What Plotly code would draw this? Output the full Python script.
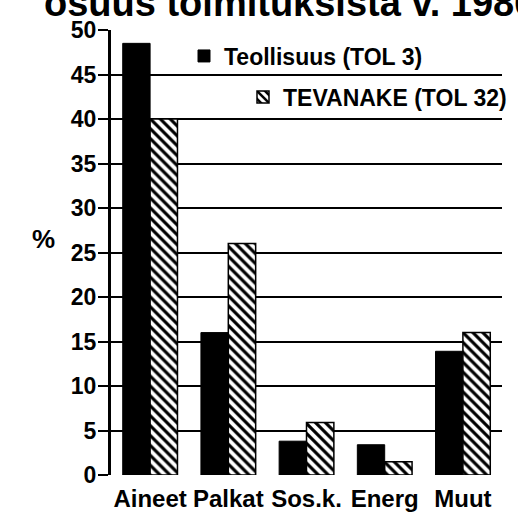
import plotly.graph_objects as go

categories = ["Aineet", "Palkat", "Sos.k.", "Energ", "Muut"]
teollisuus = [48.5, 16.0, 3.8, 3.4, 13.9]
tevanake = [40.0, 26.0, 5.9, 1.5, 16.0]
series_names = ["Teollisuus (TOL 3)", "TEVANAKE (TOL 32)"]
y_ticks = [0, 5, 10, 15, 20, 25, 30, 35, 40, 45, 50]
title_text = "osuus toimituksista v. 1986"
y_label = "%"

FONT = "Liberation Sans, Arial, Helvetica, sans-serif"

fig = go.Figure()
fig.add_trace(go.Bar(
    x=categories, y=teollisuus, name=series_names[0],
    marker=dict(color="black", line=dict(color="black", width=1)),
    legend="legend", showlegend=True,
))
fig.add_trace(go.Bar(
    x=categories, y=tevanake, name=series_names[1],
    marker=dict(color="white", line=dict(color="black", width=1.5),
                pattern=dict(shape="\\", fgcolor="black", bgcolor="white",
                             size=7, solidity=0.45, fillmode="replace")),
    legend="legend2", showlegend=True,
))

L, R, T, B = 111, 16, 30, 39
W, H = 518, 514
pw, ph = W - L - R, H - T - B

def px_x(x):
    return (x - L) / pw

def px_y(y):
    return (H - B - y) / ph

legend_common = dict(xanchor="left", yanchor="middle",
                     bgcolor="rgba(0,0,0,0)", borderwidth=0,
                     font=dict(size=23, family=FONT, weight="bold"),
                     itemclick=False, itemdoubleclick=False)

fig.update_layout(
    template="none",
    width=W, height=H,
    margin=dict(l=L, r=R, t=T, b=B, pad=0, autoexpand=False),
    paper_bgcolor="white", plot_bgcolor="white",
    showlegend=True,
    barmode="group", bargap=0.3, bargroupgap=0,
    font=dict(family=FONT, color="black"),
    legend=dict(x=px_x(184), y=px_y(56), **legend_common),
    legend2=dict(x=px_x(243), y=px_y(97), **legend_common),
    xaxis=dict(showline=False, showgrid=False, zeroline=False, ticks="",
               automargin=False,
               tickfont=dict(size=24, family=FONT, weight="bold"),
               ticklabelstandoff=7),
    yaxis=dict(range=[0, 50], tickvals=y_ticks, showgrid=True,
               automargin=False,
               gridcolor="black", gridwidth=2, zeroline=False,
               showline=True, linecolor="black", linewidth=3,
               ticks="outside", ticklen=10, tickwidth=2, tickcolor="black",
               tickfont=dict(size=23, family=FONT, weight="bold"),
               ticklabelstandoff=-3),
    annotations=[
        dict(text=title_text, xref="paper", yref="paper",
             x=px_x(42), y=px_y(26), xanchor="left", yanchor="bottom",
             showarrow=False, font=dict(size=38, family=FONT, weight="bold")),
        dict(text=y_label, xref="paper", yref="paper",
             x=px_x(43), y=px_y(239), xanchor="center", yanchor="middle",
             showarrow=False, font=dict(size=26, family=FONT, weight="bold")),
    ],
)

fig.write_html("out.html",
               config={"displayModeBar": False, "staticPlot": False},
               post_script="document.body.style.margin='0';document.body.style.padding='0';")
